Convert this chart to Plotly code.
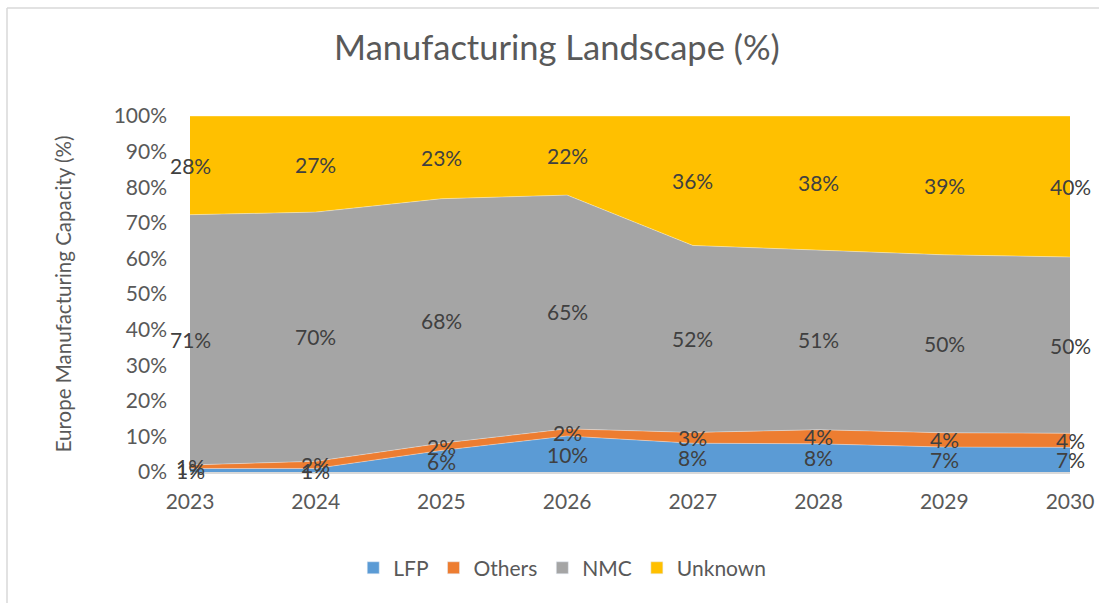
import numpy as np
import plotly.graph_objects as go

years = [2023, 2024, 2025, 2026, 2027, 2028, 2029, 2030]
lfp = [1, 1, 6, 10, 8, 8, 7, 7]
others = [1, 2, 2, 2, 3, 4, 4, 4]
nmc = [71, 70, 68, 65, 52, 51, 50, 50]
unknown = [28, 27, 23, 22, 36, 38, 39, 40]
y_ticks = list(range(0, 101, 10))
y_ticklabels = [f"{v}%" for v in y_ticks]

series = [("LFP", lfp, "#5B9BD5"), ("Others", others, "#ED7D31"),
          ("NMC", nmc, "#A5A5A5"), ("Unknown", unknown, "#FFC000")]

FONT = "Lato, Carlito, Calibri, sans-serif"
TXT = "#595959"

fig = go.Figure()
for name, vals, col in series:
    fig.add_trace(go.Scatter(
        x=years, y=vals, name=name, mode="lines", stackgroup="one",
        groupnorm="percent", line=dict(width=0.6, color="rgba(255,255,255,0.6)"),
        fillcolor=col, hoverinfo="skip", showlegend=False))
# legend entries with square swatches
for name, vals, col in series:
    fig.add_trace(go.Bar(x=[None], y=[None], name=name, marker_color=col,
                         showlegend=True, hoverinfo="skip"))

# data labels centered in each band
arr = np.array([s[1] for s in series], dtype=float)
norm = arr / arr.sum(axis=0) * 100
cum = np.cumsum(norm, axis=0)
annotations = []
for i, (name, vals, col) in enumerate(series):
    for j, yr in enumerate(years):
        center = cum[i, j] - norm[i, j] / 2
        annotations.append(dict(x=yr, y=center, xref="x", yref="y",
                                text=f"{vals[j]}%", showarrow=False,
                                font=dict(family=FONT, size=21, color="#404040")))

annotations.append(dict(x=-0.144, y=0.5, xref="paper", yref="paper",
                        xanchor="center", yanchor="middle",
                        text="Europe Manufacturing Capacity (%)", textangle=-90,
                        showarrow=False, font=dict(family=FONT, size=20.5, color=TXT)))

fig.update_layout(
    width=1099, height=603,
    margin=dict(l=190, r=29, t=116, b=131, autoexpand=False),
    paper_bgcolor="white", plot_bgcolor="white",
    title=dict(text="Manufacturing Landscape (%)", x=0.417, xref="paper", xanchor="center",
               y=0.92, yanchor="middle",
               font=dict(family=FONT, size=34.5, color=TXT)),
    showlegend=True,
    legend=dict(orientation="h", x=0.423, xanchor="center", y=-0.27, yanchor="middle",
                font=dict(family=FONT, size=21, color=TXT), traceorder="normal",
                itemwidth=30),
    annotations=annotations,
    shapes=[
        dict(type="line", xref="paper", yref="paper", x0=(7 - 190) / 880, x1=1.05,
             y0=(472 - 8) / 356, y1=(472 - 8) / 356, line=dict(color="#D9D9D9", width=1.5)),
        dict(type="line", xref="paper", yref="paper", x0=(7 - 190) / 880, x1=(7 - 190) / 880,
             y0=(472 - 8) / 356, y1=-0.5, line=dict(color="#D9D9D9", width=1.5)),
    ],
)
fig.update_xaxes(range=[2023, 2030], tickvals=years, ticktext=[str(y) for y in years],
                 showgrid=False, showline=True, linecolor="#D9D9D9", linewidth=1.5,
                 zeroline=False, ticks="", ticklabelstandoff=10, automargin=False,
                 tickfont=dict(family=FONT, size=21, color=TXT))
fig.update_yaxes(range=[0, 100], tickvals=y_ticks, ticktext=y_ticklabels,
                 showgrid=True, gridcolor="#D9D9D9", zeroline=False, showline=False,
                 ticks="", ticklabelstandoff=22, automargin=False,
                 tickfont=dict(family=FONT, size=21, color=TXT))

fig.write_html("out.html", config={"displayModeBar": False},
               post_script="document.body.style.margin='0';")
